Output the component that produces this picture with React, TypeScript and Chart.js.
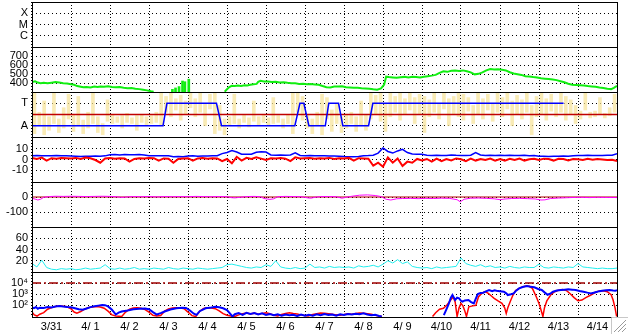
import { useEffect, useRef } from "react";
import { Chart, registerables } from "chart.js";

Chart.register(...registerables);

// ---------- categories / tick labels ----------
const DAY_LABELS = ["3/31", "4/ 1", "4/ 2", "4/ 3", "4/ 4", "4/ 5", "4/ 6", "4/ 7", "4/ 8", "4/ 9", "4/10", "4/11", "4/12", "4/13", "4/14"];

const XRAY_TICKS = [1, 2, 3];
const XRAY_LABELS = ["C", "M", "X"];
const SPEED_TICKS = [400, 500, 600, 700];
const SECTOR_TICKS = [1, 3];
const SECTOR_LABELS = ["A", "T"];
const SECTOR_MID = 2;
const BZ_TICKS = [-10, 0, 10];
const DST_TICKS = [-100, 0];
const DENS_TICKS = [20, 40, 60];
const ELEC_TICKS = [100, 1000, 10000];
const ELEC_LABELS = ["10\u00B2", "10\u00B3", "10\u2074"];
const ELEC_ALERT = 10000;

const SPEED_MIN = 300;

// ---------- series (time in days from 3/31 00:00) ----------
const speedData: [number, number | null][] = [
  [0, 412], [0.08, 418], [0.15, 405], [0.22, 398], [0.3, 402], [0.4, 396], [0.5, 403], [0.6, 410], [0.7, 406], [0.8, 398],
  [0.9, 394], [1.0, 386], [1.08, 380], [1.16, 366], [1.25, 358], [1.32, 352], [1.4, 356], [1.5, 350], [1.6, 360], [1.68, 356],
  [1.76, 362], [1.85, 358], [1.95, 364], [2.05, 356], [2.15, 352], [2.25, 355], [2.35, 347], [2.45, 343], [2.55, 345], [2.65, 336],
  [2.75, 332], [2.85, 326], [2.95, 318], [3.05, 308], [3.12, 304], [3.13, null],
  [4.94, 304], [5.0, 330], [5.06, 355], [5.12, 368], [5.2, 366], [5.28, 372], [5.36, 368], [5.45, 376], [5.52, 372], [5.6, 380],
  [5.68, 386], [5.76, 390], [5.8, 412], [5.86, 424], [5.95, 418], [6.05, 416], [6.15, 412], [6.25, 414], [6.35, 406], [6.45, 408],
  [6.55, 402], [6.65, 398], [6.75, 396], [6.85, 390], [6.95, 392], [7.05, 386], [7.15, 388], [7.25, 384], [7.35, 380], [7.45, 366],
  [7.55, 354], [7.65, 350], [7.75, 362], [7.85, 360], [7.95, 364], [8.05, 352], [8.15, 350], [8.25, 346], [8.35, 348], [8.45, 342],
  [8.55, 340], [8.65, 336], [8.75, 330], [8.85, 326], [8.95, 340], [9.03, 382], [9.08, 470], [9.15, 466], [9.25, 462], [9.35, 458],
  [9.45, 464], [9.55, 468], [9.65, 462], [9.75, 470], [9.85, 466], [9.95, 462], [10.05, 470], [10.15, 476], [10.25, 482], [10.35, 490],
  [10.45, 512], [10.55, 530], [10.65, 524], [10.75, 536], [10.85, 540], [10.95, 534], [11.05, 540], [11.15, 530], [11.25, 518], [11.35, 496],
  [11.45, 502], [11.55, 518], [11.65, 540], [11.75, 556], [11.85, 550], [11.95, 552], [12.05, 546], [12.15, 540], [12.25, 520], [12.35, 505],
  [12.45, 498], [12.55, 490], [12.65, 476], [12.75, 472], [12.85, 466], [12.95, 462], [13.05, 452], [13.15, 448], [13.25, 444], [13.35, 440],
  [13.45, 432], [13.55, 420], [13.65, 408], [13.75, 392], [13.85, 380], [13.95, 378], [14.05, 376], [14.15, 372], [14.25, 366], [14.35, 362],
  [14.45, 358], [14.55, 350], [14.65, 344], [14.75, 336], [14.85, 332], [14.92, 345], [15.0, 368],
];

const speedSpikes: [number, number][] = [
  [3.6, 330], [3.68, 345], [3.77, 360], [3.86, 422], [3.92, 414], [4.02, 442],
];

const sectorData: [number, number][] = [
  [0, 1], [3.36, 1], [3.46, 3], [4.73, 3], [4.86, 1], [6.74, 1], [6.87, 3], [6.97, 3], [7.1, 1],
  [7.52, 1], [7.61, 3], [7.86, 3], [7.97, 1], [8.63, 1], [8.74, 3], [13.63, 3],
];

// IMF angle scatter, per 3-hour bin: [low, high] in sector units
const phiRange: [number, number][] = [
  [0.3, 3.9], [1.0, 2.2], [0.2, 3.2], [0.6, 1.8], [1.2, 4.0], [0.4, 1.6], [0.8, 2.6], [1.6, 3.8],
  [0.5, 2.0], [1.0, 3.6], [0.3, 1.5], [0.8, 2.2], [1.2, 4.1], [0.4, 1.8], [0.2, 1.2], [1.4, 3.3],
  [1.2, 2.0], [1.3, 1.8], [0.8, 1.9], [1.3, 2.1], [1.2, 1.7], [0.6, 1.9], [1.3, 2.0], [1.1, 1.8],
  [1.2, 1.9], [1.3, 2.2], [1.0, 4.0], [2.2, 3.6], [1.8, 3.9], [2.4, 3.4], [1.5, 3.7], [2.0, 3.2],
  [2.6, 4.0], [1.8, 3.4], [2.2, 3.9], [1.0, 3.0], [2.5, 3.8], [0.3, 3.9], [0.6, 2.8], [0.2, 1.6],
  [1.0, 1.8], [1.2, 3.8], [0.8, 1.6], [1.3, 2.0], [0.9, 1.7], [1.4, 3.2], [1.1, 1.8], [1.3, 2.0],
  [1.0, 1.7], [1.2, 3.5], [1.3, 1.9], [0.8, 1.6], [1.2, 2.0], [0.3, 3.9], [2.2, 4.0], [1.5, 3.6],
  [0.8, 2.0], [0.3, 1.6], [1.0, 2.2], [0.2, 3.8], [1.6, 3.5], [0.5, 2.4], [1.2, 3.0], [0.4, 1.8],
  [0.8, 2.0], [1.2, 2.2], [0.5, 1.8], [1.0, 3.2], [0.6, 2.0], [1.6, 3.9], [2.0, 3.7], [1.4, 4.1],
  [0.5, 3.0], [1.8, 4.0], [2.2, 3.6], [1.5, 3.9], [2.0, 3.4], [2.4, 4.1], [1.2, 3.5], [2.0, 3.8],
  [0.4, 3.6], [1.8, 3.3], [2.2, 4.0], [1.6, 3.0], [2.5, 3.9], [1.0, 3.4], [2.0, 3.6], [1.8, 4.0],
  [1.5, 3.8], [2.3, 3.5], [1.2, 2.8], [2.0, 4.0], [1.6, 3.4], [2.4, 3.8], [1.4, 3.0], [2.2, 4.1],
  [1.8, 3.5], [2.5, 4.0], [1.0, 3.2], [2.0, 3.7], [1.6, 3.3], [2.2, 4.0], [0.2, 2.8], [1.8, 3.6],
  [2.0, 3.9], [1.5, 3.4], [2.3, 3.8], [1.8, 3.0], [2.2, 4.0], [1.5, 3.6], [2.0, 3.3], [1.2, 2.8],
  [1.6, 2.3], [2.4, 4.0], [1.7, 2.2], [1.8, 2.3], [2.0, 3.5], [1.7, 2.1], [1.9, 2.6], [2.2, 3.8],
];
const PHI_STEP = 0.125;

// IMF |B| (blue) and Bz (red), nT, every 3 hours
const BT_STEP = 0.125;
const btVals = [
  3.5, 3.8, 3.4, 3.6, 3.5, 3.7, 3.6, 3.5,
  3.2, 3.0, 2.9, 3.1, 3.0, 3.2, 3.1, 3.4,
  4.5, 4.6, 4.3, 4.7, 4.5, 4.4, 4.6, 4.2,
  3.5, 3.6, 3.4, 3.5, 3.6, 2.6, 2.7, 2.5,
  3.2, 3.4, 3.1, 3.3, 3.2, 3.5, 3.6, 5.5,
  6.5, 8.3, 7.0, 5.0, 4.8, 4.9, 6.8, 7.2,
  7.0, 4.2, 4.0, 4.1, 3.9, 4.3, 6.2, 3.8,
  3.6, 3.7, 3.5, 3.6, 3.4, 3.2, 3.3, 3.1,
  2.7, 2.6, 2.5, 2.8, 3.6, 3.7, 4.0, 6.0,
  10.8, 7.5, 6.0, 8.0, 9.5, 6.5, 5.2, 5.0,
  4.8, 4.0, 3.8, 3.9, 3.7, 3.8, 4.2, 3.9,
  3.8, 3.7, 4.0, 6.5, 4.2, 3.8, 4.0, 3.7,
  3.9, 3.8, 4.0, 3.7, 3.8, 3.9, 3.6, 3.8,
  3.0, 3.1, 2.9, 3.0, 3.0, 3.2, 3.0, 3.6,
  3.8, 3.7, 3.9, 3.8, 3.7, 3.8, 3.9, 4.0, 5.5,
];
const bzVals = [
  1.5, 0.5, 1.8, -1.0, 1.2, 0.8, 1.5, 1.2,
  1.0, 1.5, 0.5, 1.8, 1.2, -0.5, -3.0, 1.0,
  1.5, 0.8, 1.2, 1.0, -2.0, 0.5, 1.2, 1.0,
  1.5, 1.2, -1.0, 1.0, 0.8, -3.0, 0.5, 1.0,
  1.2, -1.0, 1.0, 1.5, 0.8, 1.2, 1.0, -1.5,
  0.5, -3.6, 2.5, -1.0, 1.5, 0.5, 2.0, 0.8,
  -0.5, 1.2, 1.0, 1.5, 0.8, -1.5, 2.0, 1.0,
  1.2, 1.5, 0.8, 1.2, 1.0, 1.5, 0.5, 1.2,
  1.0, 1.5, -1.0, 1.2, 1.0, 0.8, -5.8, -3.0,
  -6.7, 2.0, -3.0, 1.0, -6.0, -2.0, -3.0, 0.5,
  -1.0, 0.5, -2.0, 0.8, -1.5, 0.5, -0.8, 1.0,
  0.2, -1.5, 0.8, -1.0, 0.5, -0.5, 0.8, -1.2,
  0.5, -1.0, 0.6, -0.5, 0.8, -1.0, 0.3, 0.6,
  -0.5, 0.8, 0.5, -1.0, 0.6, 0.4, -0.8, 0.5,
  0.3, -0.5, 0.6, -0.3, 0.4, 0.0, -0.5, -0.3, -1.5,
];

// Dst index, nT
const dstData: [number, number][] = [
  [0, -8], [0.08, -14], [0.15, -20], [0.22, -15], [0.3, -2], [0.45, 3], [0.6, 5], [0.8, 4], [1.0, 5], [1.2, 4],
  [1.4, 3], [1.6, 4], [1.8, 5], [2.0, 4], [2.2, 1], [2.3, -3], [2.4, 0], [2.6, 3], [2.8, 2], [3.0, 3],
  [3.2, 1], [3.4, 3], [3.6, 2], [3.8, 3], [4.0, 2], [4.2, 4], [4.4, 3], [4.6, 2], [4.8, 3], [5.0, 2],
  [5.1, -4], [5.2, -6], [5.3, -3], [5.5, 3], [5.7, 4], [5.85, 2], [5.95, -10], [6.1, -16], [6.2, -12], [6.3, 2],
  [6.5, 4], [6.7, 3], [6.9, 2], [7.05, -5], [7.15, -8], [7.25, -2], [7.4, 3], [7.6, 3], [7.8, 2], [7.95, -8],
  [8.05, -2], [8.2, 5], [8.4, 12], [8.6, 14], [8.8, 10], [8.95, 3], [9.08, -15], [9.2, -20], [9.35, -12], [9.5, -10],
  [9.7, -9], [9.9, -11], [10.1, -9], [10.3, -10], [10.5, -8], [10.7, -9], [10.9, -18], [10.98, -32], [11.08, -15], [11.25, -8],
  [11.45, -7], [11.65, -9], [11.85, -12], [12.0, -18], [12.1, -14], [12.3, -10], [12.5, -9], [12.7, -11], [12.9, -13], [13.05, -20],
  [13.15, -19], [13.3, -10], [13.5, -7], [13.7, -5], [13.9, -3], [14.1, -2], [14.3, -4], [14.5, -2], [14.7, -3], [14.9, -3], [15, -4],
];

// proton density, every 3 hours
const DENS_STEP = 0.125;
const densVals = [
  15, 9, 21, 8, 5, 4, 6, 5,
  6, 4, 5, 7, 5, 6, 7, 13,
  6, 5, 7, 5, 6, 8, 5, 6,
  5, 7, 6, 5, 8, 6, 5, 7,
  6, 5, 7, 6, 5, 6, 7, 8,
  13, 14, 12, 10, 8, 7, 9, 8,
  13, 10, 20, 9, 7, 6, 8, 6,
  7, 14, 8, 9, 7, 10, 8, 9,
  8, 9, 7, 11, 9, 10, 12, 9,
  14, 20, 16, 22, 15, 18, 10, 8,
  7, 8, 6, 9, 7, 8, 9, 10,
  25, 15, 12, 10, 13, 9, 11, 8,
  9, 7, 10, 8, 7, 9, 8, 8,
  14, 8, 7, 9, 8, 7, 9, 8,
  15, 9, 8, 7, 6, 7, 6, 6, 7,
];

// electron flux (red, blue)
const elecRed: [number, number | null][] = [
  [0, 25], [0.06, 14], [0.13, 11], [0.2, 16], [0.3, 22], [0.4, 45], [0.5, 63], [0.6, 80], [0.7, 90], [0.8, 85],
  [0.9, 75], [1.0, 50], [1.08, 25], [1.15, 20], [1.25, 28], [1.35, 45], [1.45, 65], [1.55, 72], [1.65, 78], [1.75, 70],
  [1.85, 55], [1.95, 30], [2.05, 14], [2.15, 11], [2.3, 10], [2.4, 25], [2.5, 45], [2.6, 58], [2.7, 62], [2.8, 55],
  [2.9, 42], [3.0, 25], [3.1, 13], [3.2, 11], [3.3, 12], [3.4, 30], [3.5, 48], [3.6, 58], [3.7, 62], [3.8, 60],
  [3.9, 50], [4.0, 25], [4.1, 12], [4.2, 10], [4.3, 30], [4.4, 52], [4.5, 60], [4.6, 58], [4.7, 50], [4.8, 32],
  [4.9, 18], [5.0, 13], [5.1, 11], [5.2, 10], [5.3, 14], [5.4, 18], [5.5, 21], [5.6, 17], [5.7, 20], [5.8, 16],
  [5.9, 19], [6.0, 22], [6.1, 18], [6.2, 13], [6.3, 11], [6.4, 15], [6.5, 19], [6.6, 22], [6.7, 19], [6.8, 17],
  [6.9, 14], [7.0, 12], [7.08, 11], [7.2, 15], [7.3, 18], [7.4, 21], [7.5, 20], [7.6, 18], [7.7, 16], [7.8, 14],
  [7.9, 13], [8.0, 15], [8.1, 18], [8.2, 16], [8.3, 19], [8.4, 21], [8.5, 20], [8.6, 18], [8.7, 16], [8.8, 13],
  [8.9, 11], [8.97, 10], [8.98, null],
  [10.27, 10], [10.35, 22], [10.45, 45], [10.55, 55], [10.65, 120], [10.75, 350], [10.8, 600], [10.85, 200], [10.9, 10], [10.95, 60],
  [11.0, 150], [11.05, 90], [11.1, 30], [11.14, 10], [11.2, 75], [11.3, 90], [11.38, 100], [11.45, 600], [11.5, 900], [11.55, 1300],
  [11.62, 1700], [11.7, 1200], [11.78, 700], [11.85, 430], [11.95, 250], [12.05, 150], [12.12, 60], [12.16, 19], [12.2, 60], [12.26, 215],
  [12.33, 800], [12.4, 2200], [12.5, 3600], [12.59, 4800], [12.68, 5500], [12.75, 5200], [12.83, 3400], [12.93, 600], [13.0, 150], [13.05, 40],
  [13.1, 10], [13.14, 60], [13.2, 250], [13.3, 850], [13.4, 1700], [13.5, 2300], [13.6, 2700], [13.7, 2200], [13.8, 1100], [13.9, 500],
  [14.0, 260], [14.1, 300], [14.2, 500], [14.33, 850], [14.45, 1500], [14.55, 2000], [14.65, 2100], [14.75, 1700], [14.85, 900], [14.9, 300],
  [14.95, 60], [14.99, 10],
];

const elecBlue: [number, number | null][] = [
  [0, 65], [0.05, 55], [0.1, 70], [0.15, 50], [0.2, 62], [0.3, 58], [0.4, 70], [0.5, 66], [0.6, 80], [0.7, 88],
  [0.8, 78], [0.9, 72], [1.0, 68], [1.1, 56], [1.2, 45], [1.3, 40], [1.4, 52], [1.5, 70], [1.6, 82], [1.7, 95],
  [1.8, 110], [1.87, 105], [1.95, 80], [2.05, 40], [2.15, 15], [2.22, 22], [2.3, 28], [2.45, 35], [2.6, 45], [2.75, 50],
  [2.9, 52], [3.0, 45], [3.1, 25], [3.2, 15], [3.3, 20], [3.4, 28], [3.55, 42], [3.7, 55], [3.85, 62], [3.95, 58],
  [4.05, 35], [4.15, 18], [4.22, 14], [4.3, 30], [4.45, 55], [4.6, 65], [4.7, 75], [4.8, 68], [4.9, 55], [5.0, 38],
  [5.08, 18], [5.14, 10], [5.2, 16], [5.3, 20], [5.4, 14], [5.5, 21], [5.6, 17], [5.7, 20], [5.8, 15], [5.9, 19],
  [6.0, 14], [6.1, 17], [6.2, 13], [6.3, 16], [6.4, 12], [6.5, 15], [6.6, 13], [6.7, 14], [6.8, 11], [6.9, 15],
  [7.0, 12], [7.1, 14], [7.2, 12], [7.3, 16], [7.4, 13], [7.5, 17], [7.6, 14], [7.7, 15], [7.8, 12], [7.9, 16],
  [8.0, 14], [8.1, 17], [8.2, 15], [8.3, 18], [8.4, 16], [8.5, 19], [8.6, 15], [8.7, 13], [8.8, 14], [8.9, 11],
  [8.97, 10], [8.98, null],
  [10.56, 13], [10.62, 40], [10.68, 120], [10.74, 500], [10.78, 850], [10.85, 300], [10.9, 500], [10.95, 430], [11.0, 260], [11.04, 215],
  [11.1, 280], [11.19, 300], [11.26, 200], [11.33, 150], [11.38, 400], [11.43, 1050], [11.5, 1300], [11.57, 1380], [11.64, 1800], [11.72, 2400],
  [11.8, 1900], [11.86, 2300], [11.91, 2100], [12.0, 1900], [12.1, 1700], [12.16, 1200], [12.2, 850], [12.28, 1000], [12.35, 1200], [12.42, 2200],
  [12.49, 3400], [12.58, 4500], [12.69, 5500], [12.78, 4800], [12.88, 4200], [12.98, 3000], [13.07, 2400], [13.15, 1400], [13.22, 900], [13.3, 1200],
  [13.36, 1700], [13.46, 2200], [13.56, 2400], [13.66, 2600], [13.75, 2750], [13.85, 2600], [13.94, 2400], [14.04, 2000], [14.14, 1700], [14.24, 1400],
  [14.33, 1200], [14.4, 1350], [14.47, 1600], [14.55, 1900], [14.62, 2100], [14.72, 2300], [14.81, 2400], [14.9, 2200], [14.96, 2100], [15, 2300],
];

// ---------- helpers ----------
const FONT = { family: "'Liberation Sans', Arial, sans-serif", size: 11 };
const pts = (arr: [number, number | null][]) => arr.map(([x, y]) => ({ x, y }));
const stepPts = (vals: number[], step: number) => vals.map((y, i) => ({ x: i * step, y }));
const DAYS = DAY_LABELS.length;
const X_TICKS: number[] = [];
DAY_LABELS.forEach((_, i) => { X_TICKS.push(i, i + 0.5); });
X_TICKS.push(DAYS);

function yAxis(min: number, max: number, ticks: number[], labels?: string[], type = "linear") {
  return {
    type,
    min,
    max,
    position: "left",
    stack: "panels",
    stackWeight: 1,
    afterBuildTicks: (s: any) => { s.ticks = ticks.map((v) => ({ value: v })); },
    afterFit: (s: any) => {
      s.width = 32;
      s.paddingTop = 0;
      s.paddingBottom = 0;
    },
    ticks: {
      autoSkip: false,
      padding: 4,
      color: "#000",
      font: FONT,
      callback: (v: number) => {
        const i = ticks.indexOf(v);
        return labels ? labels[i] : String(v);
      },
    },
    grid: { color: "#000", lineWidth: 1, drawTicks: false },
    border: { display: false, dash: [1, 3] },
  };
}

// bottom -> top order (last defined is placed at the top)
const PANEL_IDS = ["yElec", "yDens", "yDst", "yBz", "ySec", "ySpd", "yXr"];

const framePlugin = {
  id: "frame",
  afterDraw(chart: any) {
    const { ctx, chartArea: a, width, height } = chart;
    ctx.save();
    ctx.strokeStyle = "#000";
    ctx.lineWidth = 1;
    ctx.setLineDash([]);
    ctx.beginPath();
    const ys = [a.top, ...PANEL_IDS.map((id) => chart.scales[id].bottom)];
    ys.forEach((y: number) => {
      const yy = Math.round(y) + 0.5;
      ctx.moveTo(a.left, yy);
      ctx.lineTo(a.right + 1, yy);
    });
    const l = Math.round(a.left) + 0.5;
    const r = Math.round(a.right) + 0.5;
    ctx.moveTo(l, a.top);
    ctx.lineTo(l, a.bottom + 1);
    ctx.moveTo(r, a.top);
    ctx.lineTo(r, a.bottom + 1);
    ctx.stroke();

    // window size grip in the lower-right corner
    ctx.strokeStyle = "#c8c8c8";
    ctx.beginPath();
    ctx.moveTo(width - 16.5, height);
    ctx.lineTo(width - 16.5, height - 16.5);
    ctx.lineTo(width, height - 16.5);
    ctx.stroke();
    ctx.strokeStyle = "#9a9a9a";
    ctx.beginPath();
    [4, 8, 12].forEach((k) => {
      ctx.moveTo(width - 2 - k, height - 2);
      ctx.lineTo(width - 2, height - 2 - k);
    });
    ctx.stroke();
    ctx.restore();
  },
};

export default function App() {
  const ref = useRef<HTMLCanvasElement | null>(null);

  useEffect(() => {
    if (!ref.current) return;
    const line = (data: any[], color: string, yAxisID: string, width = 1.5, extra: any = {}) => ({
      type: "line",
      data,
      yAxisID,
      xAxisID: "x",
      borderColor: color,
      backgroundColor: color,
      borderWidth: width,
      pointRadius: 0,
      tension: 0,
      spanGaps: false,
      fill: false,
      ...extra,
    });

    const datasets: any[] = [
      // sector panel
      line(pts(sectorData), "#0000ff", "ySec", 1.5),
      line([{ x: 0, y: SECTOR_MID }, { x: DAYS, y: SECTOR_MID }], "#c00000", "ySec", 1.5),
      {
        type: "bar",
        data: phiRange.map(([lo, hi], i) => ({ x: (i + 0.5) * PHI_STEP, y: [lo, hi] })),
        yAxisID: "ySec",
        xAxisID: "x",
        backgroundColor: "rgba(247,226,150,0.7)",
        borderWidth: 0,
        barThickness: 3,
        grouped: false,
      },
      // speed
      line(pts(speedData), "#11ee11", "ySpd", 2),
      {
        type: "bar",
        data: speedSpikes.map(([x, v]) => ({ x, y: [SPEED_MIN, v] })),
        yAxisID: "ySpd",
        xAxisID: "x",
        backgroundColor: "#11ee11",
        borderWidth: 0,
        barThickness: 2,
        grouped: false,
      },
      // IMF
      line(stepPts(bzVals, BT_STEP), "#ff0000", "yBz", 2),
      line(stepPts(btVals, BT_STEP), "#0000ff", "yBz", 1.5),
      // Dst
      line(pts(dstData), "#ff00ff", "yDst", 1),
      line([{ x: 0, y: 0 }, { x: DAYS, y: 0 }], "#b00000", "yDst", 1),
      // density
      line(stepPts(densVals, DENS_STEP), "#22eeee", "yDens", 1),
      // electrons
      line(pts(elecBlue), "#0000ff", "yElec", 2),
      line(pts(elecRed), "#ff0000", "yElec", 1.5),
      line([{ x: 0, y: ELEC_ALERT }, { x: DAYS, y: ELEC_ALERT }], "#a00000", "yElec", 1.5, { borderDash: [9, 3, 2, 3] }),
    ];

    const scales: any = {
      x: {
        type: "linear",
        min: 0,
        max: DAYS,
        position: "bottom",
        offset: false,
        afterBuildTicks: (s: any) => { s.ticks = X_TICKS.map((v) => ({ value: v })); },
        afterFit: (s: any) => {
          s.height = 17;
          s.paddingLeft = 0;
          s.paddingRight = 0;
        },
        ticks: {
          autoSkip: false,
          maxRotation: 0,
          minRotation: 0,
          padding: 3,
          color: "#000",
          font: FONT,
          callback: (v: number) => (v % 1 === 0.5 ? DAY_LABELS[Math.floor(v)] : ""),
        },
        grid: {
          color: (c: any) => (c.tick && c.tick.value % 1 === 0 ? "#000" : "rgba(0,0,0,0)"),
          lineWidth: 1,
          drawTicks: false,
          offset: false,
        },
        border: { display: false, dash: [1, 2] },
      },
      yElec: yAxis(9, 100000, ELEC_TICKS, ELEC_LABELS, "logarithmic"),
      yDens: yAxis(0, 80, DENS_TICKS),
      yDst: yAxis(-200, 100, DST_TICKS),
      yBz: yAxis(-21, 21, BZ_TICKS),
      ySec: yAxis(0, 4, SECTOR_TICKS, SECTOR_LABELS),
      ySpd: yAxis(SPEED_MIN, 800, SPEED_TICKS),
      yXr: yAxis(0, 4, XRAY_TICKS, XRAY_LABELS),
    };

    const chart = new Chart(ref.current, {
      type: "line",
      data: { datasets },
      options: {
        animation: false,
        responsive: false,
        maintainAspectRatio: false,
        events: [],
        layout: { padding: { left: 0, top: 2, right: 11, bottom: 0 } },
        plugins: { legend: { display: false }, tooltip: { enabled: false }, title: { display: false } },
        scales,
      },
      plugins: [framePlugin],
    } as any);

    return () => chart.destroy();
  }, []);

  return (
    <div style={{ position: "fixed", left: 0, top: 0, width: 628, height: 334, background: "#fff" }}>
      <canvas ref={ref} width={628} height={334} style={{ display: "block" }} />
    </div>
  );
}
